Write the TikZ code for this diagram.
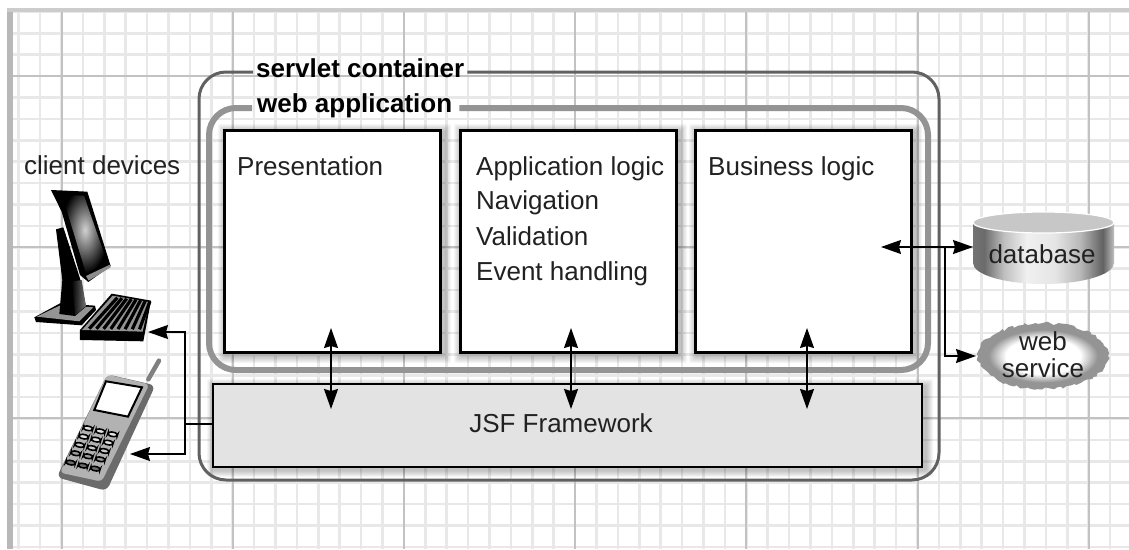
\documentclass[tikz,border=0pt]{standalone}
\usepackage{fontspec}
\setmainfont{Liberation Sans}
\usetikzlibrary{arrows.meta,decorations.pathmorphing}
\definecolor{inkc}{gray}{0.13}
\pgfdeclarehorizontalshading{cylshade}{100bp}{color(0bp)=(black!55); color(25bp)=(black!55); color(29bp)=(black!58); color(36bp)=(black!25); color(44bp)=(black!6); color(54bp)=(black!10); color(63bp)=(black!28); color(71bp)=(black!62); color(75bp)=(black!25); color(100bp)=(black!25)}
\pgfdeclareradialshading{wsshade}{\pgfpointorigin}{color(0bp)=(white); color(15bp)=(white); color(22bp)=(black!42); color(25bp)=(black!42); color(50bp)=(black!42)}
\tikzset{
  txt/.style={anchor=base west,inner sep=0pt,text=inkc,font=\fontsize{26}{28}\selectfont},
  ctxt/.style={anchor=base,inner sep=0pt,text=inkc,font=\fontsize{26}{28}\selectfont},
  btxt/.style={anchor=base west,inner sep=0pt,text=black,font=\fontsize{26}{28}\selectfont\bfseries},
  panel/.style={draw=black,line width=3pt,fill=white,anchor=north west,inner sep=0pt,outer sep=0pt,minimum width=216pt,minimum height=222pt},
  jsfbox/.style={draw=black,line width=2.6pt,fill=black!11,anchor=north west,inner sep=0pt,outer sep=0pt,minimum width=709pt,minimum height=83pt},
  conn/.style={draw=black,line width=1.5pt},
  twoway/.style={conn,{Stealth[length=20pt,width=14pt,inset=2pt]}-{Stealth[length=20pt,width=14pt,inset=2pt]}},
  oneway/.style={conn,-{Stealth[length=20pt,width=14pt,inset=2pt]}},
  minorg/.style={draw=black!9,line width=2.6pt},
  majorg/.style={draw=black!24,line width=2pt},
  soft/.style={fill=black,opacity=0.035}
}
\begin{document}
\begin{tikzpicture}[x=1pt,y=-1pt]
\useasboundingbox (0,0) rectangle (1129,549);
\fill[white] (0,0) rectangle (1129,549);
% grid
\begin{scope}
\clip (10,10) rectangle (1129,549);
\foreach \k in {-2,...,50}{\draw[minorg] ({61.5+21.4*\k},0) -- ({61.5+21.4*\k},549);}
\foreach \k in {-4,...,22}{\draw[minorg] (0,{76+21.4*\k}) -- (1129,{76+21.4*\k});}
\foreach \k in {0,...,6}{\draw[majorg] ({61.5+171.2*\k},0) -- ({61.5+171.2*\k},549);}
\foreach \k in {0,1,2}{\draw[majorg] (0,{76+171.2*\k}) -- (1129,{76+171.2*\k});}
\end{scope}
\fill[black!28] (7,8) rectangle (13,549);
\fill[black!20] (7,8) rectangle (1129,12);
% soft shadows
\foreach \d in {1,...,7}{
  \fill[soft,rounded corners=2pt] ({223-\d+2},{129-\d+2}) rectangle ({441+\d+3},{353+\d+3});
  \fill[soft,rounded corners=2pt] ({459-\d+2},{129-\d+2}) rectangle ({677+\d+3},{353+\d+3});
  \fill[soft,rounded corners=2pt] ({694-\d+2},{129-\d+2}) rectangle ({912+\d+3},{353+\d+3});
  \fill[soft,rounded corners=2pt] ({212-\d+2},{384-\d+2}) rectangle ({922+\d+4},{466+\d+4});
}
% labels and frames
\node[btxt] (servlet) at (256,77) {servlet container};
\node[btxt] (webapp) at (257,112) {web application};
\draw[black!62,line width=3pt,rounded corners=27pt] ([xshift=-3pt]servlet.west |- 0,72) -| (199,480) -| (939,72) -- ([xshift=3pt]servlet.east |- 0,72);
\draw[black!42,line width=6pt,rounded corners=27pt] ([xshift=-5pt]webapp.west |- 0,108) -| (209,370) -| (928,108) -- ([xshift=7pt]webapp.east |- 0,108);
% panels
\node[panel] (pres) at (224,130) {};
\node[panel] (appl) at (460,130) {};
\node[panel] (bus) at (695,130) {};
\node[jsfbox] (jsf) at (213,384) {};
\node[txt] (t1) at (237,175) {Presentation};
\node[txt] (t2) at (476,175) {Application logic};
\node[txt] (t3) at (476,209) {Navigation};
\node[txt] (t4) at (476,245) {Validation};
\node[txt] (t5) at (476,280) {Event handling};
\node[txt] (t6) at (708,175) {Business logic};
\node[ctxt] (t7) at (561,432) {JSF Framework};
\node[txt] (t8) at (24,174) {client devices};
% database
\path[shade,shading=cylshade] (973,222) -- (973,263) arc[start angle=180,end angle=360,x radius=70.5pt,y radius=21pt] -- (1114,222) -- cycle;
\filldraw[fill=black!22,draw=white,line width=1.2pt] (1043.5,222.5) ellipse[x radius=70.5pt,y radius=10.5pt];
\node[ctxt] (db) at (1042,263) {database};
\coordinate (dbport) at (973,247);
% web service
\fill[black!42,decorate,decoration={random steps,segment length=3.5pt,amplitude=1.6pt}] (1043,356) ellipse[x radius=65pt,y radius=33pt];
\shade[shading=wsshade] (1043,356) ellipse[x radius=62pt,y radius=30pt];
\node[ctxt] (ws1) at (1043,350) {web};
\node[ctxt] (ws2) at (1043,377) {service};
\coordinate (wsport) at (976,356);
% monitor, keyboard, phone (drawn in 3x zoom coordinates)
\begin{scope}[shift={(0,140)},x=0.3333pt,y=-0.3333pt]
 % base
 \fill[black] (103,532) -- (180,490) -- (285,497) -- (288,510) -- (245,556) -- (108,546) -- cycle;
 \fill[black!42] (110,530) -- (183,495) -- (280,502) -- (238,544) -- cycle;
 % stand
 \fill[black] (168,268) -- (190,262) -- (240,415) -- (258,500) -- (225,528) -- (178,522) -- (187,420) -- cycle;
 \shade[left color=black,right color=black!55] (215,425) -- (245,420) -- (258,498) -- (226,526) -- cycle;
 % monitor
 \fill[black] (153,150) -- (262,155) -- (332,378) -- (265,426) -- (240,405) -- (185,215) -- cycle;
 \fill[black!45] (258,408) -- (330,374) -- (332,382) -- (266,422) -- cycle;
 \begin{scope}
  \clip (186,165) -- (252,167) -- (322,368) -- (258,400) -- cycle;
  \fill[black] (150,150) rectangle (340,420);
  \shade[inner color=black!18,outer color=black] (255,270) ellipse[x radius=70,y radius=130];
 \end{scope}
 % keyboard
 \fill[black] (335,461) -- (453,482) -- (430,604) -- (240,600) -- (240,570) -- cycle;
 \fill[black!42] (338,467) -- (448,486) -- (428,575) -- (246,570) -- cycle;
 \foreach \i in {0,...,7}{
   \draw[black,line width=3.2pt] ({352+\i*14},{473+\i*1.5}) -- ({268+\i*21.5},{566+\i*0.3});
 }
 % phone
 \draw[black!50,line width=4.5pt,line cap=round] (445,718) -- (477,662);
 \fill[black!58,rounded corners=6pt] (322,703) -- (466,736) -- (320,1053) -- (170,1012) -- cycle;
 \fill[black!30,rounded corners=4pt] (322,704) -- (448,733) -- (305,1025) -- (180,998) -- cycle;
 \filldraw[fill=white,draw=black,line width=2pt] (318,724) -- (426,742) -- (384,830) -- (283,810) -- cycle;
 \foreach \r/\sx/\sy/\shd in {0/265/865/10,1/252/890/12,2/240/915/22,3/228/940/40,4/213/968/58}{
   \foreach \c in {0,1,2}{
     \filldraw[fill=black!\shd,draw=black,line width=1.6pt,rounded corners=3pt] ({\sx+\c*37-13},{\sy+\c*9-9}) -- ({\sx+\c*37+15},{\sy+\c*9-3}) -- ({\sx+\c*37+11},{\sy+\c*9+9}) -- ({\sx+\c*37-17},{\sy+\c*9+3}) -- cycle;
   }
 }
\end{scope}
\coordinate (kbport) at (148,332);
\coordinate (phport) at (130,454);
\coordinate (jsfport) at (185,424);
\coordinate (busport) at (881,247);
\coordinate (split) at (945,247);
\coordinate (a1t) at (331,328); \coordinate (a1b) at (331,409);
\coordinate (a2t) at (571,328); \coordinate (a2b) at (571,409);
\coordinate (a3t) at (807,328); \coordinate (a3b) at (807,409);
% connectors
\draw[twoway] (a1t) -- (a1b);
\draw[twoway] (a2t) -- (a2b);
\draw[twoway] (a3t) -- (a3b);
\draw[twoway] (busport) -- (dbport);
\draw[oneway] (split) |- (wsport);
\draw[conn] (jsf.west |- jsfport) -- (jsfport);
\draw[oneway] (jsfport) |- (kbport);
\draw[oneway] (jsfport) |- (phport);
\end{tikzpicture}
\end{document}
